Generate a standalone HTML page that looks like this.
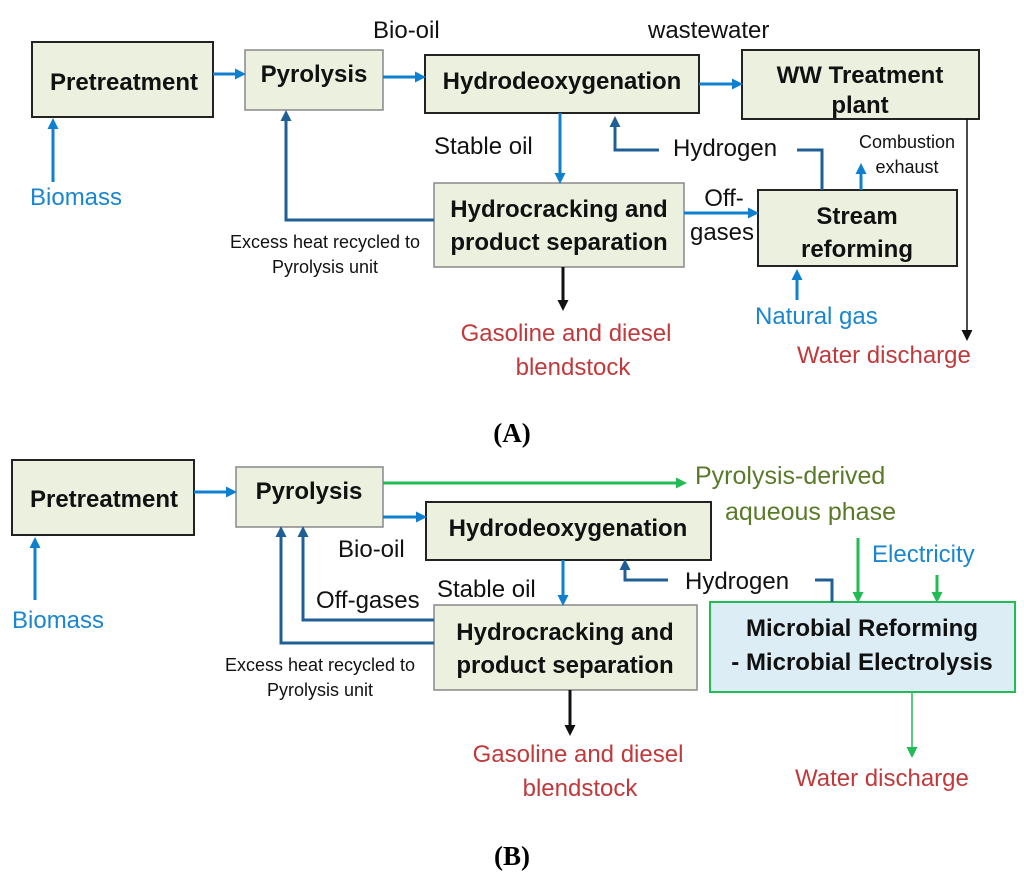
<!DOCTYPE html>
<html><head><meta charset="utf-8"><style>
body{margin:0;background:#fff}
svg{display:block}
text{font-family:"Liberation Sans",sans-serif}
.b{font-weight:bold;font-size:24px;fill:#111}
.n{font-size:24px;fill:#111}
.s{font-size:18px;fill:#111}
.r{font-size:24px;fill:#c0393b}
.bl{font-size:24px;fill:#1a86d0}
.g{font-size:25px;fill:#5a7a2a}
.cap{font-family:"Liberation Serif",serif;font-weight:bold;font-size:27px;fill:#000}
</style></head><body>
<svg width="1024" height="882" viewBox="0 0 1024 882" xmlns="http://www.w3.org/2000/svg">
<defs>
<marker id="ab" markerWidth="11" markerHeight="11" refX="8" refY="5.5" orient="auto" markerUnits="userSpaceOnUse"><path d="M0,0 L11,5.5 L0,11 z" fill="#0f7fd0"/></marker>
<marker id="ad" markerWidth="11" markerHeight="11" refX="8" refY="5.5" orient="auto" markerUnits="userSpaceOnUse"><path d="M0,0 L11,5.5 L0,11 z" fill="#1f5f95"/></marker>
<marker id="ak" markerWidth="11" markerHeight="11" refX="8" refY="5.5" orient="auto" markerUnits="userSpaceOnUse"><path d="M0,0 L11,5.5 L0,11 z" fill="#111"/></marker>
<marker id="ag" markerWidth="11" markerHeight="11" refX="8" refY="5.5" orient="auto" markerUnits="userSpaceOnUse"><path d="M0,0 L11,5.5 L0,11 z" fill="#22bb55"/></marker>
</defs>
<g fill="#ebf1de">
<rect x="32" y="42" width="181" height="75" stroke="#222" stroke-width="2"/>
<rect x="245" y="50" width="138" height="60" stroke="#888" stroke-width="1.5"/>
<rect x="425" y="55" width="274" height="58" stroke="#222" stroke-width="2"/>
<rect x="742" y="50" width="237" height="69" stroke="#222" stroke-width="2"/>
<rect x="434" y="183" width="250" height="84" stroke="#888" stroke-width="1.5"/>
<rect x="758" y="190" width="199" height="76" stroke="#222" stroke-width="2"/>
<rect x="12" y="460" width="182" height="75" stroke="#222" stroke-width="2"/>
<rect x="236" y="467" width="147" height="60" stroke="#888" stroke-width="1.5"/>
<rect x="426" y="502" width="285" height="58" stroke="#222" stroke-width="2"/>
<rect x="434" y="605" width="263" height="85" stroke="#888" stroke-width="1.5"/>
</g>
<rect x="710" y="602" width="305" height="90" fill="#dcedf5" stroke="#22bb55" stroke-width="2"/>

<g fill="none" stroke-width="3">
<line x1="213" y1="74" x2="243" y2="74" stroke="#0f7fd0" marker-end="url(#ab)"/>
<line x1="383" y1="77" x2="423" y2="77" stroke="#0f7fd0" marker-end="url(#ab)"/>
<line x1="699" y1="84" x2="740" y2="84" stroke="#0f7fd0" marker-end="url(#ab)"/>
<line x1="53" y1="182" x2="53" y2="121" stroke="#0f7fd0" marker-end="url(#ab)"/>
<line x1="560" y1="113" x2="560" y2="181" stroke="#0f7fd0" marker-end="url(#ab)"/>
<line x1="684" y1="213" x2="756" y2="213" stroke="#0f7fd0" marker-end="url(#ab)"/>
<line x1="797" y1="300" x2="797" y2="272" stroke="#0f7fd0" marker-end="url(#ab)"/>
<line x1="861" y1="190" x2="861" y2="166" stroke="#0f7fd0" marker-end="url(#ab)"/>
<polyline points="434,220 286,220 286,113" stroke="#1f5f95" marker-end="url(#ad)"/>
<polyline points="659,150 615,150 615,119" stroke="#1f5f95" marker-end="url(#ad)"/>
<polyline points="797,150 822,150 822,190" stroke="#1f5f95"/>
<line x1="563" y1="267" x2="563" y2="308" stroke="#111" marker-end="url(#ak)"/>
<line x1="967" y1="119" x2="967" y2="338" stroke="#111" stroke-width="1.5" marker-end="url(#ak)"/>

<line x1="194" y1="492" x2="234" y2="492" stroke="#0f7fd0" marker-end="url(#ab)"/>
<line x1="383" y1="517" x2="424" y2="517" stroke="#0f7fd0" marker-end="url(#ab)"/>
<line x1="35" y1="600" x2="35" y2="540" stroke="#0f7fd0" marker-end="url(#ab)"/>
<line x1="563" y1="560" x2="563" y2="603" stroke="#0f7fd0" marker-end="url(#ab)"/>
<line x1="383" y1="483" x2="684" y2="483" stroke="#22bb55" marker-end="url(#ag)"/>
<line x1="858" y1="538" x2="858" y2="600" stroke="#22bb55" marker-end="url(#ag)"/>
<line x1="937" y1="575" x2="937" y2="600" stroke="#22bb55" marker-end="url(#ag)"/>
<line x1="912" y1="692" x2="912" y2="755" stroke="#22bb55" stroke-width="1.5" marker-end="url(#ag)"/>
<polyline points="434,620 303,620 303,529" stroke="#1f5f95" marker-end="url(#ad)"/>
<polyline points="434,643 281,643 281,529" stroke="#1f5f95" marker-end="url(#ad)"/>
<polyline points="668,580 625,580 625,562" stroke="#1f5f95" marker-end="url(#ad)"/>
<polyline points="815,580 832,580 832,602" stroke="#1f5f95"/>
<line x1="570" y1="690" x2="570" y2="733" stroke="#111" marker-end="url(#ak)"/>
</g>

<text class="b" x="124" y="90" text-anchor="middle" font-size="25">Pretreatment</text>
<text class="b" x="314" y="82" text-anchor="middle">Pyrolysis</text>
<text class="b" x="562" y="89" text-anchor="middle">Hydrodeoxygenation</text>
<text class="b" x="860" y="83" text-anchor="middle">WW Treatment</text>
<text class="b" x="860" y="113" text-anchor="middle">plant</text>
<text class="b" x="559" y="217" text-anchor="middle">Hydrocracking and</text>
<text class="b" x="559" y="250" text-anchor="middle">product separation</text>
<text class="b" x="857" y="224" text-anchor="middle">Stream</text>
<text class="b" x="857" y="257" text-anchor="middle">reforming</text>
<text class="n" x="373" y="38">Bio-oil</text>
<text class="n" x="648" y="38">wastewater</text>
<text class="n" x="434" y="154">Stable oil</text>
<text class="n" x="673" y="156">Hydrogen</text>
<text class="s" x="907" y="148" text-anchor="middle">Combustion</text>
<text class="s" x="907" y="173" text-anchor="middle">exhaust</text>
<text class="n" x="724" y="206" text-anchor="middle">Off-</text>
<text class="n" x="722" y="240" text-anchor="middle">gases</text>
<text class="s" x="325" y="248" text-anchor="middle">Excess heat recycled to</text>
<text class="s" x="325" y="273" text-anchor="middle">Pyrolysis unit</text>
<text class="bl" x="30" y="205">Biomass</text>
<text class="bl" x="755" y="324" font-size="25">Natural gas</text>
<text class="r" x="566" y="341" text-anchor="middle">Gasoline and diesel</text>
<text class="r" x="573" y="375" text-anchor="middle">blendstock</text>
<text class="r" x="797" y="363" font-size="26">Water discharge</text>
<text class="cap" x="512" y="442" text-anchor="middle">(A)</text>

<text class="b" x="104" y="507" text-anchor="middle" font-size="25">Pretreatment</text>
<text class="b" x="309" y="499" text-anchor="middle">Pyrolysis</text>
<text class="b" x="568" y="536" text-anchor="middle">Hydrodeoxygenation</text>
<text class="b" x="565" y="640" text-anchor="middle">Hydrocracking and</text>
<text class="b" x="565" y="673" text-anchor="middle">product separation</text>
<text class="b" x="862" y="636" text-anchor="middle" font-size="25">Microbial Reforming</text>
<text class="b" x="862" y="670" text-anchor="middle" font-size="25">- Microbial Electrolysis</text>
<text class="g" x="695" y="484">Pyrolysis-derived</text>
<text class="g" x="725" y="520">aqueous phase</text>
<text class="bl" x="872" y="562" font-size="25">Electricity</text>
<text class="n" x="685" y="589">Hydrogen</text>
<text class="n" x="437" y="597">Stable oil</text>
<text class="n" x="338" y="557">Bio-oil</text>
<text class="n" x="316" y="608">Off-gases</text>
<text class="s" x="320" y="671" text-anchor="middle">Excess heat recycled to</text>
<text class="s" x="320" y="696" text-anchor="middle">Pyrolysis unit</text>
<text class="bl" x="12" y="628">Biomass</text>
<text class="r" x="578" y="762" text-anchor="middle">Gasoline and diesel</text>
<text class="r" x="580" y="796" text-anchor="middle">blendstock</text>
<text class="r" x="795" y="786" font-size="26">Water discharge</text>
<text class="cap" x="512" y="865" text-anchor="middle">(B)</text>
</svg>
</body></html>
